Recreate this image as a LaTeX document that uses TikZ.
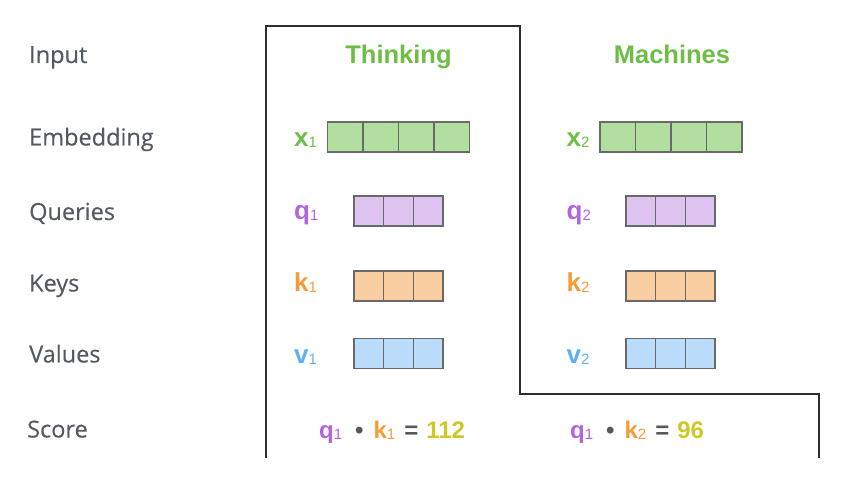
\documentclass[tikz,border=0pt]{standalone}
\usepackage{fontspec}
\setsansfont{Liberation Sans}
\newfontfamily\rowfont{Open Sans}[FakeBold=0.3]
\usepackage{xcolor}
\usepackage{tikz}
\usetikzlibrary{positioning}

\definecolor{rowgray}{RGB}{84,90,98}
\definecolor{framegray}{RGB}{45,45,45}
\definecolor{cellgray}{RGB}{105,105,105}
\definecolor{wordgreen}{RGB}{108,190,69}
\definecolor{qpurple}{RGB}{178,100,224}
\definecolor{korange}{RGB}{245,155,55}
\definecolor{vblue}{RGB}{95,175,245}
\definecolor{scoreyellow}{RGB}{205,200,40}
\definecolor{embgreen}{RGB}{178,222,160}
\definecolor{qfill}{RGB}{223,196,242}
\definecolor{kfill}{RGB}{249,206,160}
\definecolor{vfill}{RGB}{186,220,250}

\newcommand{\subidx}[1]{\raisebox{-1pt}{\fontsize{15}{15}\selectfont\mdseries #1}}

\tikzset{
  rowlabel/.style={
    anchor=base west, inner sep=0pt, text=rowgray,
    font=\rowfont\fontsize{23.5}{28}\selectfont
  },
  wordtitle/.style={
    anchor=base, inner sep=0pt, text=wordgreen,
    font=\sffamily\bfseries\fontsize{25.5}{30}\selectfont
  },
  veclabel/.style={
    anchor=base west, inner sep=0pt,
    font=\sffamily\bfseries\fontsize{26}{30}\selectfont
  },
  widecell/.style={
    draw=cellgray, line width=1.3pt, inner sep=0pt,
    minimum width=35.5pt, minimum height=30pt
  },
  narrowcell/.style={widecell, minimum width=29.67pt},
  scoretext/.style={
    anchor=base west, inner sep=0pt,
    font=\sffamily\bfseries\fontsize{24}{28}\selectfont
  },
  wordframe/.style={draw=framegray, line width=1.2pt},
}

\begin{document}
\begin{tikzpicture}[x=1pt, y=-1pt]
  \useasboundingbox (0,0) rectangle (852,481);

  % ── Row labels ──
  \node[rowlabel] (lblinput) at (29,63) {Input};
  \node[rowlabel] (lblembed) at (29,145.5) {Embedding};
  \node[rowlabel] (lblquery) at (29,220) {Queries};
  \node[rowlabel] (lblkey) at (29,291.5) {Keys};
  \node[rowlabel] (lblvalue) at (29,362.5) {Values};
  \node[rowlabel] (lblscore) at (27,437.5) {Score};

  % ── Frame round the two words ──
  \draw[wordframe] (266,458) -- (266,26) -- (520,26) -- (520,394)
    -- (819,394) -- (819,458);

  % ── Words ──
  \node[wordtitle] (wthinking) at (398.5,64) {Thinking};
  \node[wordtitle] (wmachines) at (672,64) {Machines};

  % ── Thinking: x1, q1, k1, v1 ──
  \node[veclabel, text=wordgreen] (xone) at (294,146.7) {x\subidx{1}};
  \node[veclabel, text=qpurple] (qone) at (294,219.3) {q\subidx{1}};
  \node[veclabel, text=korange] (kone) at (294,291.7) {k\subidx{1}};
  \node[veclabel, text=vblue] (vone) at (294,363.3) {v\subidx{1}};
  \foreach \i in {0,...,3}
    \node[widecell, fill=embgreen] (xonecell\i) at (345.25+35.5*\i,137) {};
  \foreach \i in {0,1,2} {
    \node[narrowcell, fill=qfill] (qonecell\i) at (368.8+29.67*\i,211) {};
    \node[narrowcell, fill=kfill] (konecell\i) at (368.8+29.67*\i,286) {};
    \node[narrowcell, fill=vfill] (vonecell\i) at (368.8+29.67*\i,353.5) {};
  }

  % ── Machines: x2, q2, k2, v2 ──
  \node[veclabel, text=wordgreen] (xtwo) at (566.5,146.7) {x\subidx{2}};
  \node[veclabel, text=qpurple] (qtwo) at (566.5,219.3) {q\subidx{2}};
  \node[veclabel, text=korange] (ktwo) at (566.5,291.7) {k\subidx{2}};
  \node[veclabel, text=vblue] (vtwo) at (566.5,363.3) {v\subidx{2}};
  \foreach \i in {0,...,3}
    \node[widecell, fill=embgreen] (xtwocell\i) at (617.75+35.5*\i,137) {};
  \foreach \i in {0,1,2} {
    \node[narrowcell, fill=qfill] (qtwocell\i) at (640.8+29.67*\i,211) {};
    \node[narrowcell, fill=kfill] (ktwocell\i) at (640.8+29.67*\i,286) {};
    \node[narrowcell, fill=vfill] (vtwocell\i) at (640.8+29.67*\i,353.5) {};
  }

  % ── Scores ──
  \node[scoretext] (scoreone) at (319,438.3)
    {{\color{qpurple}q\subidx{1}}\hspace{13pt}{\color{rowgray}•}\hspace{10pt}%
     {\color{korange}k\subidx{1}}\hspace{9pt}{\color{rowgray}=}\hspace{8pt}%
     {\color{scoreyellow}112}};
  \node[scoretext] (scoretwo) at (570,438.3)
    {{\color{qpurple}q\subidx{1}}\hspace{13pt}{\color{rowgray}•}\hspace{10pt}%
     {\color{korange}k\subidx{2}}\hspace{9pt}{\color{rowgray}=}\hspace{8pt}%
     {\color{scoreyellow}96}};
\end{tikzpicture}
\end{document}
